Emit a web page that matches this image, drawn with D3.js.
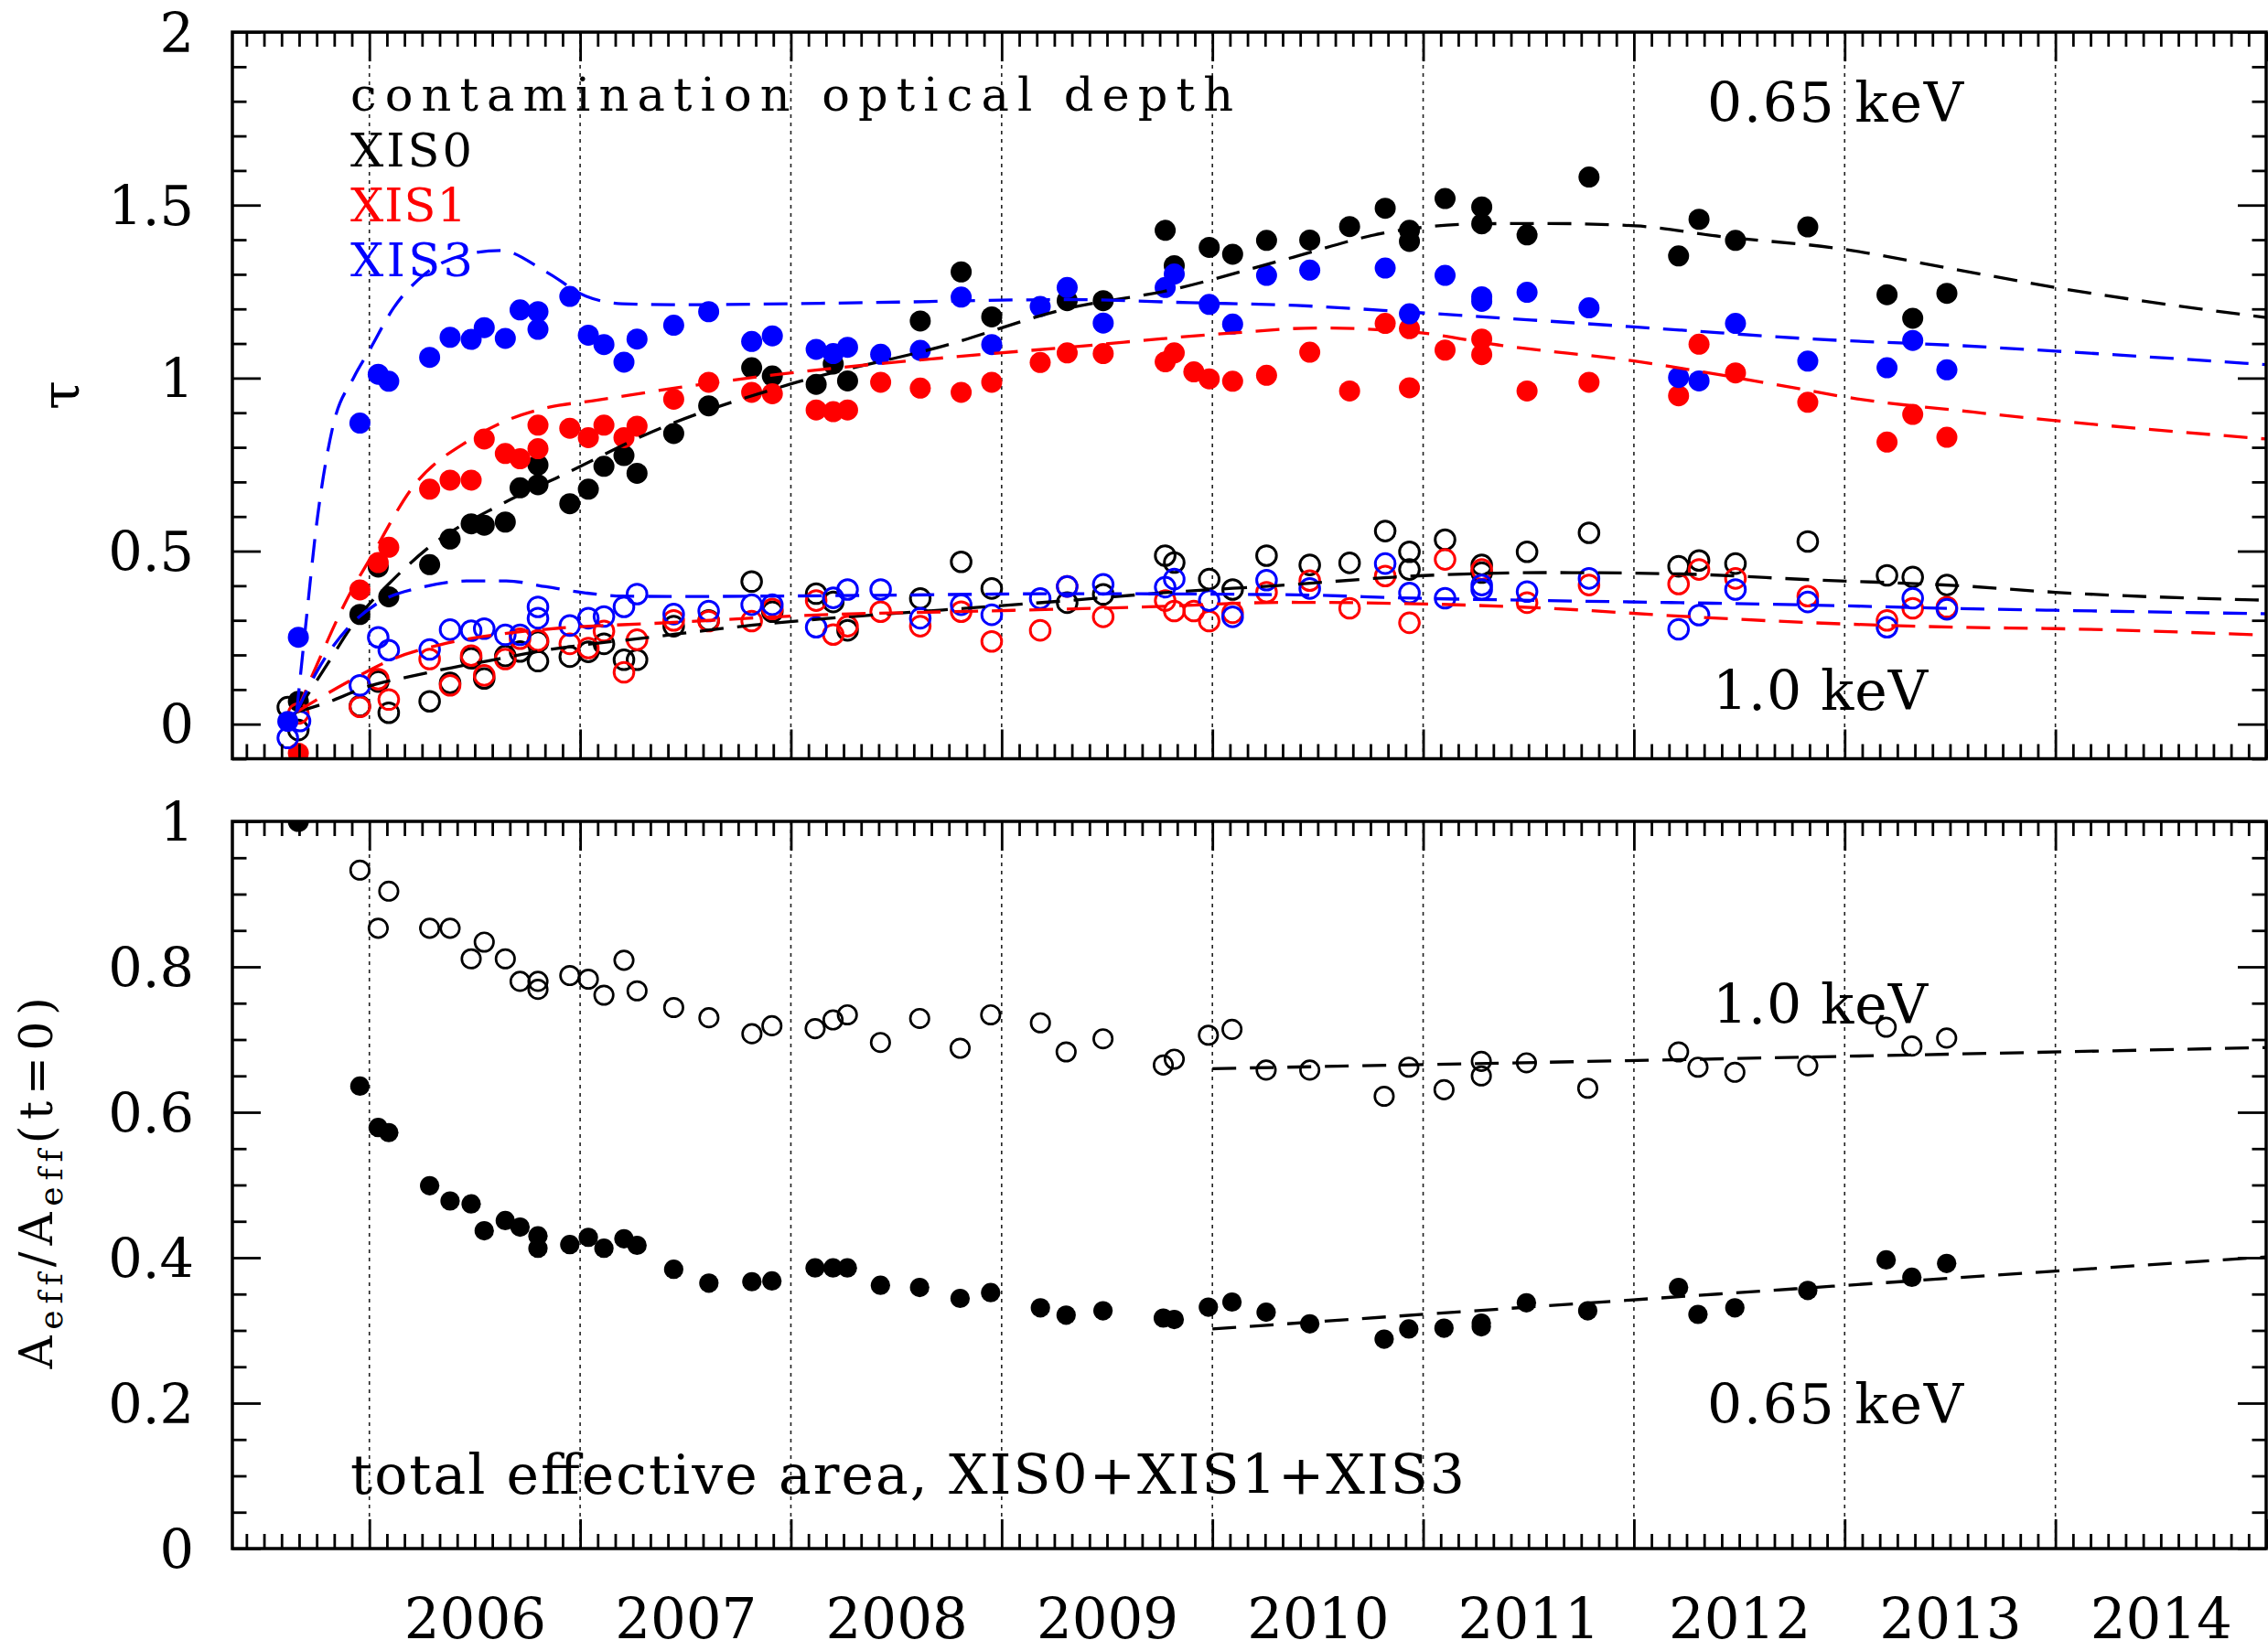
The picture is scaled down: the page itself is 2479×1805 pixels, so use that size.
<!DOCTYPE html>
<html><head><meta charset="utf-8">
<script src="https://cdn.jsdelivr.net/npm/d3@7"></script>
<style>
body{margin:0;background:#fff}
svg{display:block}
text{font-family:"DejaVu Serif",serif}
</style>
</head><body>
<svg id="c" width="2479" height="1805"></svg>
<script>
// ---------------- DATA ----------------
// Top panel: contamination optical depth, [year, tau]
const xis0_065 = [[2005.663,0.066],[2005.955,0.317],[2006.042,0.454],[2006.092,0.368],[2006.286,0.461],[2006.383,0.535],[2006.483,0.579],[2006.545,0.575],[2006.645,0.584],[2006.715,0.683],[2006.80,0.692],[2006.80,0.749],[2006.951,0.637],[2007.039,0.679],[2007.113,0.745],[2007.208,0.776],[2007.270,0.725],[2007.444,0.840],[2007.610,0.920],[2007.814,1.030],[2007.912,1.006],[2008.120,0.982],[2008.201,1.041],[2008.269,0.992],[2008.614,1.165],[2008.808,1.307],[2008.953,1.177],[2009.311,1.224],[2009.482,1.224],[2009.776,1.427],[2009.819,1.325],[2009.985,1.378],[2010.096,1.358],[2010.257,1.398],[2010.462,1.399],[2010.651,1.438],[2010.820,1.491],[2010.935,1.427],[2010.935,1.395],[2011.104,1.519],[2011.278,1.495],[2011.278,1.446],[2011.493,1.414],[2011.787,1.581],[2012.212,1.353],[2012.309,1.459],[2012.482,1.398],[2012.825,1.437],[2013.201,1.241],[2013.323,1.173],[2013.485,1.245]];
const xis1_065 = [[2005.663,-0.084],[2005.955,0.388],[2006.042,0.467],[2006.092,0.511],[2006.286,0.679],[2006.383,0.705],[2006.483,0.705],[2006.545,0.824],[2006.645,0.782],[2006.715,0.767],[2006.80,0.864],[2006.80,0.796],[2006.951,0.855],[2007.039,0.828],[2007.113,0.864],[2007.208,0.828],[2007.270,0.861],[2007.444,0.939],[2007.610,0.988],[2007.814,0.959],[2007.912,0.955],[2008.120,0.908],[2008.201,0.903],[2008.269,0.908],[2008.426,0.988],[2008.614,0.971],[2008.808,0.959],[2008.953,0.988],[2009.183,1.045],[2009.311,1.073],[2009.482,1.071],[2009.776,1.047],[2009.819,1.073],[2009.912,1.018],[2009.985,0.998],[2010.096,0.991],[2010.257,1.008],[2010.462,1.075],[2010.651,0.963],[2010.820,1.158],[2010.935,1.143],[2010.935,0.972],[2011.104,1.081],[2011.278,1.113],[2011.278,1.068],[2011.493,0.963],[2011.787,0.988],[2012.212,0.949],[2012.309,1.098],[2012.482,1.015],[2012.825,0.930],[2013.201,0.815],[2013.323,0.895],[2013.485,0.829]];
const xis3_065 = [[2005.613,0.008],[2005.663,0.251],[2005.955,0.870],[2006.042,1.011],[2006.092,0.991],[2006.286,1.060],[2006.383,1.118],[2006.483,1.112],[2006.545,1.146],[2006.645,1.115],[2006.715,1.197],[2006.80,1.192],[2006.80,1.141],[2006.951,1.236],[2007.039,1.124],[2007.113,1.097],[2007.208,1.046],[2007.270,1.113],[2007.444,1.153],[2007.610,1.192],[2007.814,1.106],[2007.912,1.122],[2008.120,1.083],[2008.201,1.071],[2008.269,1.089],[2008.426,1.069],[2008.614,1.080],[2008.808,1.234],[2008.953,1.097],[2009.183,1.207],[2009.311,1.262],[2009.482,1.159],[2009.776,1.262],[2009.819,1.301],[2009.985,1.213],[2010.096,1.156],[2010.257,1.297],[2010.462,1.312],[2010.820,1.318],[2010.935,1.186],[2011.104,1.297],[2011.278,1.235],[2011.278,1.222],[2011.493,1.248],[2011.787,1.203],[2012.212,1.002],[2012.309,0.992],[2012.482,1.158],[2012.825,1.049],[2013.201,1.030],[2013.323,1.109],[2013.485,1.024]];
const xis0_10 = [[2005.613,0.049],[2005.663,-0.017],[2005.955,0.052],[2006.042,0.123],[2006.092,0.033],[2006.286,0.066],[2006.383,0.119],[2006.483,0.190],[2006.545,0.132],[2006.645,0.197],[2006.715,0.210],[2006.80,0.182],[2006.80,0.238],[2006.951,0.195],[2007.039,0.209],[2007.113,0.232],[2007.208,0.186],[2007.270,0.186],[2007.444,0.283],[2007.610,0.300],[2007.814,0.412],[2007.912,0.325],[2008.120,0.377],[2008.201,0.353],[2008.269,0.271],[2008.614,0.363],[2008.808,0.469],[2008.953,0.392],[2009.311,0.351],[2009.482,0.375],[2009.776,0.487],[2009.819,0.467],[2009.985,0.419],[2010.096,0.389],[2010.257,0.487],[2010.462,0.460],[2010.651,0.466],[2010.820,0.558],[2010.935,0.498],[2010.935,0.447],[2011.104,0.533],[2011.278,0.460],[2011.278,0.438],[2011.493,0.498],[2011.787,0.553],[2012.212,0.456],[2012.309,0.473],[2012.482,0.464],[2012.825,0.528],[2013.201,0.430],[2013.323,0.425],[2013.485,0.402]];
const xis1_10 = [[2005.663,0.031],[2005.955,0.050],[2006.042,0.130],[2006.092,0.071],[2006.286,0.188],[2006.383,0.112],[2006.483,0.198],[2006.545,0.141],[2006.645,0.188],[2006.715,0.247],[2006.80,0.242],[2006.951,0.232],[2007.039,0.220],[2007.113,0.269],[2007.208,0.150],[2007.270,0.244],[2007.444,0.300],[2007.610,0.298],[2007.814,0.298],[2007.912,0.333],[2008.120,0.357],[2008.201,0.259],[2008.269,0.283],[2008.426,0.325],[2008.614,0.283],[2008.808,0.325],[2008.953,0.239],[2009.183,0.271],[2009.311,0.398],[2009.482,0.310],[2009.776,0.357],[2009.819,0.327],[2009.912,0.327],[2009.985,0.298],[2010.096,0.322],[2010.257,0.381],[2010.462,0.415],[2010.651,0.335],[2010.820,0.428],[2010.935,0.293],[2011.104,0.476],[2011.278,0.447],[2011.493,0.351],[2011.787,0.402],[2012.212,0.405],[2012.309,0.447],[2012.482,0.421],[2012.825,0.370],[2013.201,0.300],[2013.323,0.335],[2013.485,0.338]];
const xis3_10 = [[2005.613,-0.040],[2005.671,0.009],[2005.955,0.112],[2006.042,0.251],[2006.092,0.214],[2006.286,0.216],[2006.383,0.273],[2006.483,0.270],[2006.545,0.276],[2006.645,0.258],[2006.715,0.258],[2006.80,0.339],[2006.80,0.306],[2006.951,0.285],[2007.039,0.306],[2007.113,0.311],[2007.208,0.339],[2007.270,0.376],[2007.444,0.318],[2007.610,0.327],[2007.814,0.345],[2007.912,0.345],[2008.120,0.280],[2008.201,0.365],[2008.269,0.389],[2008.426,0.389],[2008.614,0.306],[2008.808,0.345],[2008.953,0.316],[2009.183,0.363],[2009.311,0.398],[2009.482,0.404],[2009.776,0.396],[2009.819,0.419],[2009.985,0.357],[2010.096,0.310],[2010.257,0.416],[2010.462,0.392],[2010.820,0.464],[2010.935,0.379],[2011.104,0.364],[2011.278,0.402],[2011.278,0.389],[2011.493,0.383],[2011.787,0.421],[2012.212,0.274],[2012.309,0.315],[2012.482,0.389],[2012.825,0.353],[2013.201,0.280],[2013.323,0.364],[2013.485,0.332]];

// Top panel model curves (dashed), [year, tau]
const model0_065 = [[2005.655,0.035],[2005.797,0.17],[2005.941,0.304],[2006.115,0.419],[2006.274,0.507],[2006.621,0.634],[2006.911,0.718],[2007.345,0.846],[2007.994,0.982],[2008.730,1.094],[2009.311,1.201],[2009.796,1.254],[2010.338,1.342],[2010.83,1.421],[2011.272,1.446],[2011.587,1.447],[2012.008,1.440],[2012.429,1.408],[2012.955,1.376],[2013.544,1.312],[2014.0,1.262],[2015.0,1.175]];
const model1_065 = [[2005.655,0.035],[2005.75,0.17],[2005.898,0.366],[2006.014,0.489],[2006.2,0.68],[2006.477,0.822],[2006.665,0.881],[2006.853,0.916],[2007.055,0.934],[2007.46,0.972],[2007.955,1.012],[2008.73,1.059],[2009.311,1.089],[2010.087,1.130],[2010.5,1.145],[2010.956,1.133],[2011.377,1.094],[2012.008,1.049],[2012.64,0.985],[2013.06,0.940],[2013.607,0.902],[2014.0,0.877],[2015.0,0.824]];
const model3_065 = [[2005.655,0.035],[2005.695,0.269],[2005.753,0.594],[2005.826,0.858],[2005.927,1.003],[2006.0,1.080],[2006.115,1.203],[2006.26,1.299],[2006.477,1.360],[2006.621,1.369],[2006.839,1.307],[2007.027,1.237],[2007.2,1.215],[2007.446,1.212],[2008.343,1.218],[2009.311,1.227],[2009.893,1.218],[2010.397,1.210],[2010.956,1.190],[2011.587,1.165],[2012.218,1.139],[2012.85,1.113],[2013.544,1.094],[2014.0,1.078],[2015.0,1.039]];
const model0_10 = [[2005.655,0.035],[2005.797,0.062],[2006.0,0.110],[2006.187,0.137],[2006.39,0.163],[2006.59,0.186],[2006.809,0.211],[2007.345,0.252],[2007.82,0.286],[2008.148,0.304],[2008.536,0.322],[2008.924,0.339],[2009.311,0.357],[2009.796,0.381],[2010.3,0.400],[2010.956,0.428],[2011.587,0.438],[2012.218,0.434],[2012.85,0.417],[2013.544,0.400],[2014.0,0.381],[2015.0,0.358]];
const model1_10 = [[2005.655,0.035],[2005.898,0.122],[2006.115,0.189],[2006.332,0.229],[2006.621,0.260],[2006.911,0.278],[2007.345,0.291],[2008.148,0.316],[2008.924,0.327],[2009.699,0.339],[2010.35,0.352],[2010.956,0.348],[2011.587,0.335],[2012.218,0.312],[2012.85,0.293],[2013.544,0.280],[2014.0,0.276],[2015.0,0.257]];
const model3_10 = [[2005.655,0.035],[2005.753,0.154],[2005.898,0.278],[2006.043,0.351],[2006.26,0.397],[2006.477,0.414],[2006.65,0.414],[2006.839,0.397],[2007.027,0.379],[2007.2,0.370],[2007.46,0.369],[2008.343,0.372],[2009.311,0.377],[2010.35,0.374],[2010.956,0.364],[2011.587,0.357],[2012.218,0.351],[2012.85,0.344],[2013.544,0.334],[2014.0,0.329],[2015.0,0.319]];

// Bottom panel: total effective area relative to t=0
const areaDates = [2005.663,2005.955,2006.042,2006.092,2006.286,2006.383,2006.483,2006.545,2006.645,2006.715,2006.80,2006.80,2006.951,2007.039,2007.113,2007.208,2007.270,2007.444,2007.611,2007.815,2007.91,2008.115,2008.2,2008.268,2008.425,2008.611,2008.803,2008.948,2009.184,2009.306,2009.481,2009.767,2009.819,2009.981,2010.093,2010.255,2010.462,2010.815,2010.932,2011.099,2011.276,2011.276,2011.49,2011.781,2012.212,2012.304,2012.479,2012.825,2013.197,2013.319,2013.484];
const area10 = [1.0,0.933,0.853,0.904,0.853,0.853,0.811,0.834,0.811,0.780,0.780,0.769,0.788,0.783,0.761,0.809,0.767,0.744,0.730,0.708,0.719,0.715,0.727,0.734,0.696,0.729,0.688,0.734,0.723,0.683,0.701,0.665,0.673,0.706,0.714,0.658,0.658,0.622,0.662,0.631,0.670,0.650,0.668,0.633,0.683,0.662,0.655,0.664,0.717,0.691,0.702];
const area065 = [1.0,0.636,0.579,0.572,0.499,0.478,0.474,0.437,0.451,0.442,0.430,0.413,0.418,0.428,0.413,0.426,0.417,0.384,0.365,0.367,0.368,0.386,0.386,0.386,0.362,0.359,0.344,0.352,0.331,0.321,0.327,0.317,0.315,0.332,0.339,0.325,0.309,0.288,0.302,0.303,0.310,0.305,0.338,0.327,0.359,0.322,0.331,0.355,0.397,0.373,0.392];
const areaFit10 = [[2010.0,0.660],[2012.5,0.674],[2015.0,0.689]];
const areaFit065 = [[2010.0,0.302],[2012.5,0.352],[2015.0,0.401]];

// Axis tick labels
const yearLabels = [2006,2007,2008,2009,2010,2011,2012,2013,2014];
const tauTicks = [0,0.5,1,1.5,2];
const areaTicks = [0,0.2,0.4,0.6,0.8,1];

// ---------------- DRAW ----------------
const svg = d3.select('#c');
const X0 = 254, X1 = 2477;
const x = d3.scaleLinear().domain([2005.35, 2015]).range([X0, X1]);
const yTop = d3.scaleLinear().domain([-0.1, 2]).range([829.5, 35.1]);
const yBot = d3.scaleLinear().domain([0, 1]).range([1693, 898]);

const COL = {k:'#000000', r:'#ff0000', b:'#0000ff'};
const majorYears = d3.range(2006, 2016);
const minorMonths = d3.range(0, 120).map(i => 2005 + i/12).filter((v,i) => i%12 !== 0 && v > 2005.35 && v < 2015);

function panel(y, id, majorY, minorY, labelFmt) {
  const [yb, yt] = y.range();
  const defs = svg.append('defs');
  defs.append('clipPath').attr('id', id).append('rect')
    .attr('x', X0).attr('y', yt).attr('width', X1 - X0).attr('height', yb - yt);
  const g = svg.append('g');
  g.append('g').selectAll('line').data(yearLabels).join('line')
    .attr('x1', d => x(d)).attr('x2', d => x(d)).attr('y1', yt).attr('y2', yb)
    .attr('stroke', '#222').attr('stroke-width', 1.6).attr('stroke-dasharray', '4,5');
  const data = g.append('g').attr('clip-path', `url(#${id})`);
  return {g, data, yb, yt, majorY, minorY, labelFmt, y};
}

function frame(p, withXLabels) {
  const {g, yb, yt, y} = p;
  const clean = sel => { sel.select('.domain').remove(); sel.selectAll('line').attr('stroke-width', 2.8).attr('stroke', '#000'); };
  g.append('g').attr('transform', `translate(0,${yb})`).call(d3.axisBottom(x).tickValues(majorYears).tickSize(-32).tickFormat('')).call(clean);
  g.append('g').attr('transform', `translate(0,${yb})`).call(d3.axisBottom(x).tickValues(minorMonths).tickSize(-16).tickFormat('')).call(clean);
  g.append('g').attr('transform', `translate(0,${yt})`).call(d3.axisTop(x).tickValues(majorYears).tickSize(-32).tickFormat('')).call(clean);
  g.append('g').attr('transform', `translate(0,${yt})`).call(d3.axisTop(x).tickValues(minorMonths).tickSize(-16).tickFormat('')).call(clean);
  const la = g.append('g').attr('transform', `translate(${X0},0)`)
    .call(d3.axisLeft(y).tickValues(p.majorY).tickSize(-31).tickPadding(42).tickFormat(p.labelFmt)).call(clean);
  la.selectAll('text').attr('font-size', 59).attr('font-family', '"DejaVu Serif",serif').attr('fill', '#000').attr('dy', '0.36em');
  g.append('g').attr('transform', `translate(${X0},0)`).call(d3.axisLeft(y).tickValues(p.minorY).tickSize(-15.5).tickFormat('')).call(clean);
  g.append('g').attr('transform', `translate(${X1},0)`).call(d3.axisRight(y).tickValues(p.majorY).tickSize(-31).tickFormat('')).call(clean);
  g.append('g').attr('transform', `translate(${X1},0)`).call(d3.axisRight(y).tickValues(p.minorY).tickSize(-15.5).tickFormat('')).call(clean);
  g.append('rect').attr('x', X0).attr('y', yt).attr('width', X1 - X0).attr('height', yb - yt)
    .attr('fill', 'none').attr('stroke', '#000').attr('stroke-width', 3.5);
  if (withXLabels) {
    const xa = g.append('g').attr('transform', `translate(0,${yb})`)
      .call(d3.axisBottom(x).tickValues(yearLabels.map(d => d + 0.5)).tickSize(0).tickPadding(0).tickFormat(d => String(Math.floor(d))));
    xa.select('.domain').remove();
    xa.selectAll('text').attr('font-size', 61).attr('font-family', '"DejaVu Serif",serif').attr('fill', '#000')
      .attr('dy', null).attr('y', 98);
  }
}

const fmtTau = d => String(d);
const fmtArea = d => d === 0 ? '0' : (d === 1 ? '1' : d.toFixed(1));

const pTop = panel(yTop, 'clipTop', tauTicks, d3.range(-1, 21).filter(i => i % 5 !== 0).map(i => i/10), fmtTau);
const pBot = panel(yBot, 'clipBot', areaTicks, d3.range(0, 21).filter(i => i % 4 !== 0).map(i => i/20), fmtArea);

const line = (y) => d3.line().x(d => x(d[0])).y(d => y(d[1])).curve(d3.curveMonotoneX);
function filled(p, arr, col, r) {
  p.data.append('g').selectAll('circle').data(arr).join('circle')
    .attr('cx', d => x(d[0])).attr('cy', d => p.y(d[1])).attr('r', r).attr('fill', col);
}
function open(p, arr, col, r, sw) {
  p.data.append('g').selectAll('circle').data(arr).join('circle')
    .attr('cx', d => x(d[0])).attr('cy', d => p.y(d[1])).attr('r', r)
    .attr('fill', 'none').attr('stroke', col).attr('stroke-width', sw);
}
function dashed(p, arr, col) {
  p.data.append('path').datum(arr).attr('d', line(p.y)).attr('fill', 'none')
    .attr('stroke', col).attr('stroke-width', 3.3).attr('stroke-dasharray', '26,15');
}

[[xis0_065, xis0_10, COL.k],[xis1_065, xis1_10, COL.r],[xis3_065, xis3_10, COL.b]].forEach(([f, o, c]) => {
  filled(pTop, f, c, 11.5);
  open(pTop, o, c, 10.8, 3);
});
[[model0_065, model0_10, COL.k],[model1_065, model1_10, COL.r],[model3_065, model3_10, COL.b]].forEach(([m1, m2, c]) => {
  dashed(pTop, m1, c); dashed(pTop, m2, c);
});

open(pBot, areaDates.map((d, i) => [d, area10[i]]), COL.k, 10.2, 2.7);
filled(pBot, areaDates.map((d, i) => [d, area065[i]]), COL.k, 10.6);
dashed(pBot, areaFit10, COL.k);
dashed(pBot, areaFit065, COL.k);

frame(pTop, false);
frame(pBot, true);

// ---------------- TEXT ----------------
function label(txt, xx, yy, w, col, fs) {
  svg.append('text').attr('x', xx).attr('y', yy).attr('font-size', fs || 60).attr('fill', col || '#000')
    .attr('textLength', w).attr('lengthAdjust', 'spacing').text(txt);
}
// stacked legend lines (font sized so the line boxes do not collide)
const legendLines = [
  {t:'contamination optical depth', y:121, w:965, c:COL.k},
  {t:'XIS0', y:182, w:133, c:COL.k},
  {t:'XIS1', y:242, w:127, c:COL.r},
  {t:'XIS3', y:302, w:134, c:COL.b}
];
legendLines.forEach(L => label(L.t, 383, L.y, L.w, L.c, 51));

label('0.65 keV', 1866, 133, 280);
label('1.0 keV', 1872, 776, 235);
label('1.0 keV', 1872, 1119, 235);
label('0.65 keV', 1866, 1556, 280);
label('total effective area, XIS0+XIS1+XIS3', 383, 1633, 1218);

svg.append('text').attr('transform', 'translate(86,432) rotate(-90)').attr('text-anchor', 'middle')
  .attr('font-size', 58).text('τ');
const yl = svg.append('text').attr('transform', 'translate(57,1290) rotate(-90)').attr('text-anchor', 'middle')
  .attr('font-size', 50);
yl.append('tspan').text('A');
yl.append('tspan').attr('font-size', 36).attr('dy', 11).text('eff');
yl.append('tspan').attr('dy', -11).text('/A');
yl.append('tspan').attr('font-size', 36).attr('dy', 11).text('eff');
yl.append('tspan').attr('dy', -11).text('(t=0)');
const natural = yl.node().getComputedTextLength();
yl.attr('letter-spacing', Math.max(0, (411 - natural) / 14));
</script>
</body></html>
